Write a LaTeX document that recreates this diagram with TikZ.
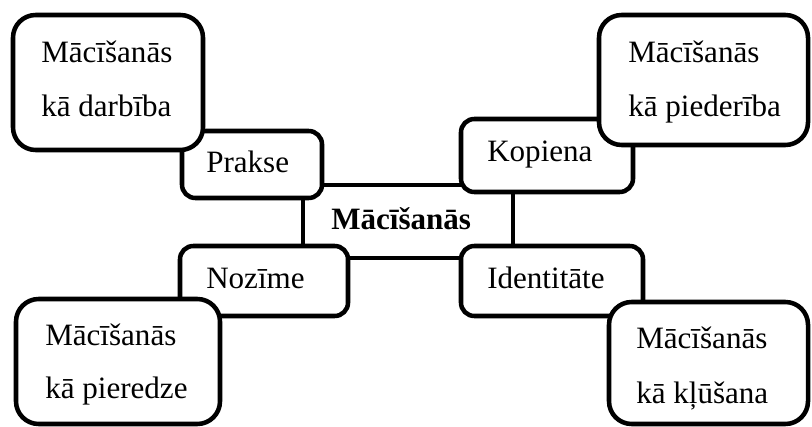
\documentclass[tikz,border=0pt]{standalone}
\usepackage{fontspec}
\setmainfont{Liberation Serif}

\begin{document}
\begin{tikzpicture}[x=0.75pt,y=-0.75pt,line width=3.4pt,
    frame/.style={draw,fill=white},
    smallbox/.style={frame,rounded corners=10pt},
    bigbox/.style={frame,rounded corners=17pt},
    txt/.style={anchor=base west,inner sep=0pt,font=\fontsize{23.3}{28}\selectfont}]
  \useasboundingbox (0,0) rectangle (812,427);
  % centre
  \draw[frame] (303,185) rectangle (513,258);
  \node[txt,font=\fontsize{23.3}{28}\selectfont\bfseries] (mac) at (329,230) {Mācīšanās};
  % four aspects
  \draw[smallbox] (182,131) rectangle (322,198);
  \node[txt] (prakse) at (204,173) {Prakse};
  \draw[smallbox] (461,119) rectangle (633,192);
  \node[txt] (kopiena) at (485,162) {Kopiena};
  \draw[smallbox] (180,246) rectangle (348,316);
  \node[txt] (nozime) at (204,288) {Nozīme};
  \draw[smallbox] (461,246) rectangle (643,316);
  \node[txt] (ident) at (485,288) {Identitāte};
  % corners
  \draw[bigbox] (13,15) rectangle (203,150);
  \node[txt] (darbA) at (39,63) {Mācīšanās};
  \node[txt] (darbB) at (39,117) {kā darbība};
  \draw[bigbox] (599,15) rectangle (808,145);
  \node[txt] (piedA) at (626,63) {Mācīšanās};
  \node[txt] (piedB) at (626,117) {kā piederība};
  \draw[bigbox] (16,299) rectangle (220,424);
  \node[txt] (pierA) at (43,345) {Mācīšanās};
  \node[txt] (pierB) at (43,398) {kā pieredze};
  \draw[bigbox] (609,302) rectangle (808,424);
  \node[txt] (klusA) at (634,348) {Mācīšanās};
  \node[txt] (klusB) at (634,403) {kā kļūšana};
\end{tikzpicture}
\end{document}
